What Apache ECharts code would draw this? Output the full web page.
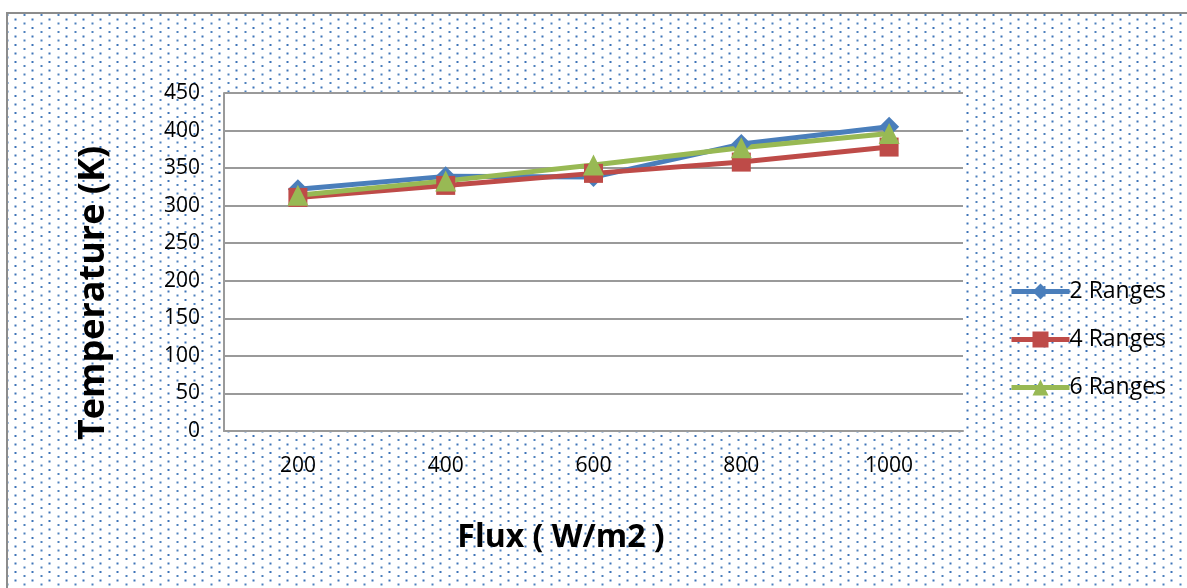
<!DOCTYPE html>
<html>
<head>
<meta charset="utf-8">
<script src="https://cdn.jsdelivr.net/npm/echarts@6/dist/echarts.min.js"></script>
<style>
  html, body { margin: 0; padding: 0; background: #fff; }
  #chart { width: 1187px; height: 588px; }
</style>
</head>
<body>
<div id="chart"></div>
<script>
const fluxLabels = ['200', '400', '600', '800', '1000'];
const ranges2 = [322, 339, 338, 382, 405];
const ranges4 = [311, 327, 343, 358, 378];
const ranges6 = [314, 333, 354, 377, 396];
const yTicks = { min: 0, max: 450, step: 50 };

// dotted fill like the Excel chart area
function dotTile() {
  const c = document.createElement('canvas');
  c.width = 17;
  c.height = 17;
  const ctx = c.getContext('2d');
  ctx.fillStyle = '#4f81bd';
  ctx.fillRect(6.5, 5.5, 2, 2);
  ctx.fillRect(6.5, 14, 2, 2);
  ctx.fillStyle = '#3f74b8';
  ctx.fillRect(14.5, 1.5, 2, 2);
  ctx.fillRect(14.5, 10, 2, 2);
  return c;
}

const chart = echarts.init(document.getElementById('chart'));
const font = '"Open Sans", "Liberation Sans", sans-serif';
const gridGray = '#9a9a9a';

const option = {
  backgroundColor: '#fff',
  animation: false,
  textStyle: { fontFamily: font },
  graphic: [
    {
      type: 'rect',
      z: -10,
      silent: true,
      shape: { x: 7, y: 13, width: 1200, height: 600 },
      style: { fill: { image: dotTile(), repeat: 'repeat' }, stroke: '#8c8c8c', lineWidth: 2 }
    },
    {
      type: 'text',
      rotation: Math.PI / 2,
      x: 94,
      y: 293,
      style: {
        text: 'Temperature (K)',
        font: 'bold 36px ' + font,
        fill: '#000',
        align: 'center',
        verticalAlign: 'middle'
      }
    },
    {
      type: 'text',
      x: 561,
      y: 538,
      style: {
        text: 'Flux ( W/m2 )',
        font: 'bold 32px ' + font,
        fill: '#000',
        align: 'center',
        verticalAlign: 'middle'
      }
    }
  ],
  grid: {
    left: 224, right: 224, top: 93, bottom: 157,
    show: true, backgroundColor: '#fff', borderWidth: 0
  },
  legend: {
    orient: 'vertical',
    left: 1004,
    top: 275,
    itemWidth: 58,
    itemHeight: 20,
    itemGap: 25,
    lineStyle: { width: 5 },
    textStyle: { fontSize: 23, color: '#000', fontFamily: font, padding: [0, 0, 0, -5] },
    data: ['2 Ranges', '4 Ranges', '6 Ranges']
  },
  xAxis: {
    type: 'category',
    data: fluxLabels,
    boundaryGap: true,
    axisLine: { lineStyle: { color: gridGray, width: 2 } },
    axisTick: { show: false },
    axisLabel: { color: '#000', fontSize: 21, margin: 25 }
  },
  yAxis: {
    type: 'value',
    min: yTicks.min,
    max: yTicks.max,
    interval: yTicks.step,
    axisLine: { show: true, lineStyle: { color: gridGray, width: 2 } },
    axisTick: { show: false },
    splitLine: { lineStyle: { color: gridGray, width: 2 } },
    axisLabel: { color: '#000', fontSize: 21, margin: 24 }
  },
  series: [
    {
      name: '2 Ranges',
      type: 'line',
      data: ranges2,
      symbol: 'diamond',
      symbolSize: 20,
      lineStyle: { color: '#4a7ebb', width: 5 },
      itemStyle: { color: '#4a7ebb' }
    },
    {
      name: '4 Ranges',
      type: 'line',
      data: ranges4,
      symbol: 'rect',
      symbolSize: 19,
      lineStyle: { color: '#be4b48', width: 5 },
      itemStyle: { color: '#be4b48' }
    },
    {
      name: '6 Ranges',
      type: 'line',
      data: ranges6,
      symbol: 'triangle',
      symbolSize: 21,
      lineStyle: { color: '#98b954', width: 5 },
      itemStyle: { color: '#98b954' }
    }
  ]
};

chart.setOption(option);
window.addEventListener('resize', () => chart.resize());
</script>
</body>
</html>
